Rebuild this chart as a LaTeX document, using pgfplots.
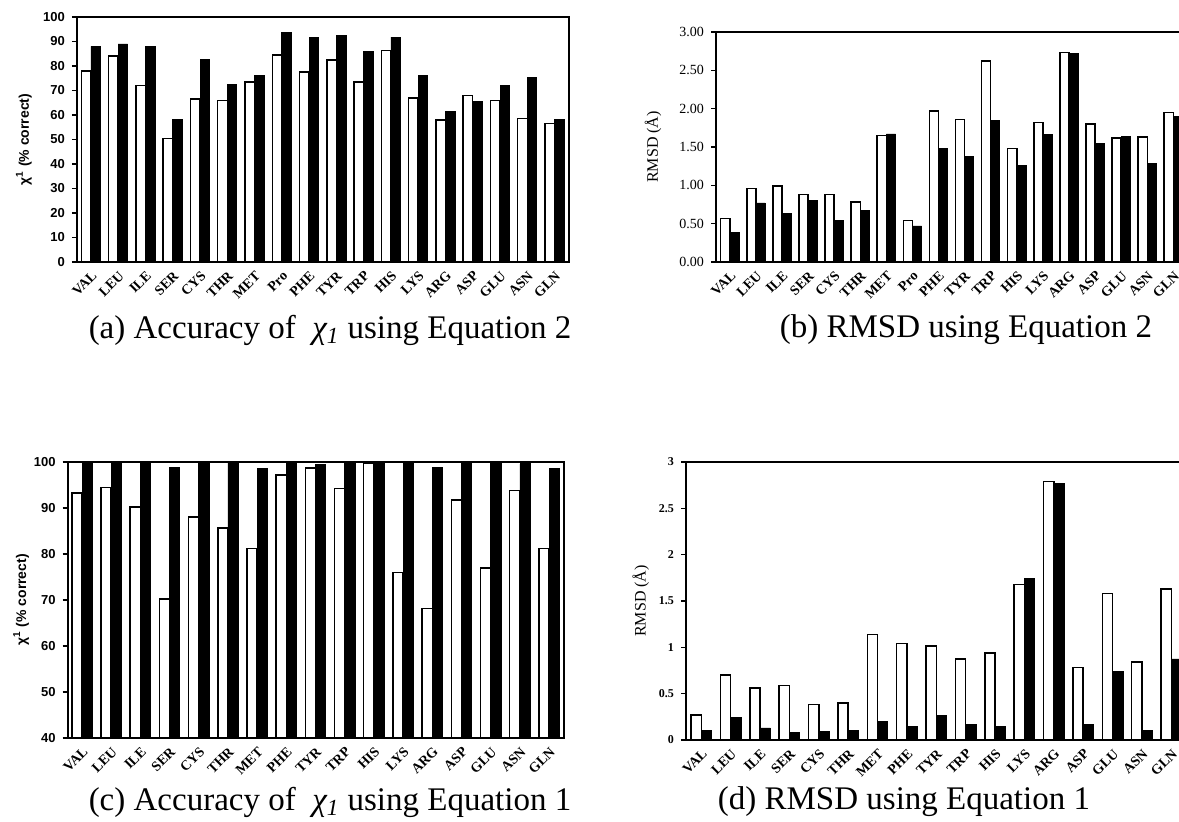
\documentclass[border=0pt]{standalone}
\usepackage{fontspec}
\setmainfont{Liberation Serif}
\newfontfamily\sansb{Liberation Sans}
\usepackage{pgfplots}
\usepackage{pgfplotstable}
\pgfplotsset{compat=1.18}

\pgfplotstableread{
cat w b
VAL 78 88
LEU 84 89
ILE 72 88
SER 50.5 58
CYS 66.5 82.5
THR 66 72.5
MET 73.5 76.3
Pro 84.5 93.7
PHE 77.5 91.8
TYR 82.4 92.6
TRP 73.5 85.8
HIS 86.3 91.8
LYS 67 76
ARG 58 61.5
ASP 68 65.5
GLU 66 72
ASN 58.5 75.5
GLN 56.5 58
}\tabA

\pgfplotstableread{
cat w b
VAL 0.57 0.38
LEU 0.96 0.77
ILE 0.99 0.63
SER 0.88 0.80
CYS 0.88 0.54
THR 0.78 0.67
MET 1.65 1.67
Pro 0.54 0.47
PHE 1.97 1.48
TYR 1.86 1.38
TRP 2.62 1.85
HIS 1.48 1.26
LYS 1.82 1.66
ARG 2.73 2.72
ASP 1.80 1.55
GLU 1.62 1.64
ASN 1.63 1.29
GLN 1.95 1.90
}\tabB

\pgfplotstableread{
cat w b
VAL 93.3 99.8
LEU 94.5 99.8
ILE 90.2 99.8
SER 70.2 98.8
CYS 88 99.8
THR 85.7 99.8
MET 81.2 98.5
PHE 97.2 99.8
TYR 98.7 99.5
TRP 94.2 99.8
HIS 99.7 99.8
LYS 76 99.6
ARG 68.2 98.8
ASP 91.7 99.6
GLU 76.9 99.6
ASN 93.8 99.6
GLN 81.2 98.6
}\tabC

\pgfplotstableread{
cat w b
VAL 0.27 0.10
LEU 0.70 0.24
ILE 0.56 0.13
SER 0.59 0.08
CYS 0.385 0.09
THR 0.40 0.10
MET 1.14 0.20
PHE 1.04 0.15
TYR 1.015 0.26
TRP 0.875 0.17
HIS 0.94 0.15
LYS 1.68 1.74
ARG 2.79 2.77
ASP 0.78 0.17
GLU 1.58 0.74
ASN 0.84 0.10
GLN 1.63 0.875
}\tabD

\pgfplotsset{
  panel/.style={
    scale only axis, anchor=south west,
    axis line style={line width=1pt},
    enlargelimits=false,
    ybar, bar width=0.35,
    xtick={0,...,17},
    xtick style={draw=none},
    ytick pos=left, tick align=outside,
    ytick style={line width=0.6pt, black},
    major tick length=2.5pt,
    xticklabel style={rotate=45, anchor=north east, inner sep=1pt,
      font=\bfseries\fontsize{7}{8}\selectfont},
    /pgf/number format/assume math mode=true,
  },
  wbar/.style={draw=black, fill=white, line width=0.75pt, bar shift=-0.175},
  bbar/.style={draw=black, fill=black, line width=0.4pt, bar shift=0.175},
}

\begin{document}
\begin{tikzpicture}
\path[use as bounding box] (0,0) rectangle (589.5pt,411pt);

% (a)
\begin{axis}[panel, at={(38.5pt,280pt)}, width=246pt, height=122.5pt,
  xmin=-0.51, xmax=17.53, ymin=0, ymax=100, ytick={0,10,...,100},
  xticklabels={VAL,LEU,ILE,SER,CYS,THR,MET,Pro,PHE,TYR,TRP,HIS,LYS,ARG,ASP,GLU,ASN,GLN},
  yticklabel style={font=\sansb\bfseries\fontsize{6.5}{7}\selectfont},
  ylabel={χ\textsuperscript{1} (\% correct)},
  ylabel style={font=\sansb\bfseries\fontsize{7}{8}\selectfont, at={(axis description cs:-0.108,0.5)}, anchor=center}]
\addplot[wbar] table[x expr=\coordindex, y=w] {\tabA};
\addplot[bbar] table[x expr=\coordindex, y=b] {\tabA};
\end{axis}

% (b)
\begin{axis}[panel, at={(358pt,280pt)}, width=236.5pt, height=115pt,
  xmin=-0.53, xmax=17.6, ymin=0, ymax=3, ytick={0,0.5,...,3},
  xticklabels={VAL,LEU,ILE,SER,CYS,THR,MET,Pro,PHE,TYR,TRP,HIS,LYS,ARG,ASP,GLU,ASN,GLN},
  yticklabel style={font=\fontsize{7}{8}\selectfont, /pgf/number format/.cd, fixed, fixed zerofill, precision=2},
  ylabel={RMSD (Å)},
  ylabel style={font=\fontsize{8}{9}\selectfont, at={(axis description cs:-0.133,0.5)}, anchor=center}]
\addplot[wbar] table[x expr=\coordindex, y=w] {\tabB};
\addplot[bbar] table[x expr=\coordindex, y=b] {\tabB};
\end{axis}

% (c)
\begin{axis}[panel, at={(33.85pt,42pt)}, width=248pt, height=138pt,
  xmin=-0.49, xmax=16.5, ymin=40, ymax=100, ytick={40,50,...,100},
  xticklabels={VAL,LEU,ILE,SER,CYS,THR,MET,PHE,TYR,TRP,HIS,LYS,ARG,ASP,GLU,ASN,GLN},
  yticklabel style={font=\sansb\bfseries\fontsize{6.5}{7}\selectfont},
  ylabel={χ\textsuperscript{1} (\% correct)},
  ylabel style={font=\sansb\bfseries\fontsize{7}{8}\selectfont, at={(axis description cs:-0.094,0.5)}, anchor=center}]
\addplot[wbar] table[x expr=\coordindex, y=w] {\tabC};
\addplot[bbar] table[x expr=\coordindex, y=b] {\tabC};
\end{axis}

% (d)
\begin{axis}[panel, at={(343pt,41pt)}, width=251.5pt, height=139pt,
  xmin=-0.52, xmax=16.6, ymin=0, ymax=3, ytick={0,0.5,...,3},
  xticklabels={VAL,LEU,ILE,SER,CYS,THR,MET,PHE,TYR,TRP,HIS,LYS,ARG,ASP,GLU,ASN,GLN},
  yticklabel style={font=\bfseries\fontsize{6}{7}\selectfont},
  ylabel={RMSD (Å)},
  ylabel style={font=\fontsize{8}{9}\selectfont, at={(axis description cs:-0.09,0.5)}, anchor=center}]
\addplot[wbar] table[x expr=\coordindex, y=w] {\tabD};
\addplot[bbar] table[x expr=\coordindex, y=b] {\tabD};
\end{axis}

\node[font=\fontsize{16.5}{19}\selectfont] at (165pt,246pt) {(a) Accuracy of~ {\itshape χ\textsubscript{1}} using Equation 2};
\node[font=\fontsize{16.5}{19}\selectfont] at (483pt,246pt) {(b) RMSD using Equation 2};
\node[font=\fontsize{16.5}{19}\selectfont] at (165pt,10pt) {(c) Accuracy of~ {\itshape χ\textsubscript{1}} using Equation 1};
\node[font=\fontsize{16.5}{19}\selectfont] at (452pt,10pt) {(d) RMSD using Equation 1};
\end{tikzpicture}
\end{document}
